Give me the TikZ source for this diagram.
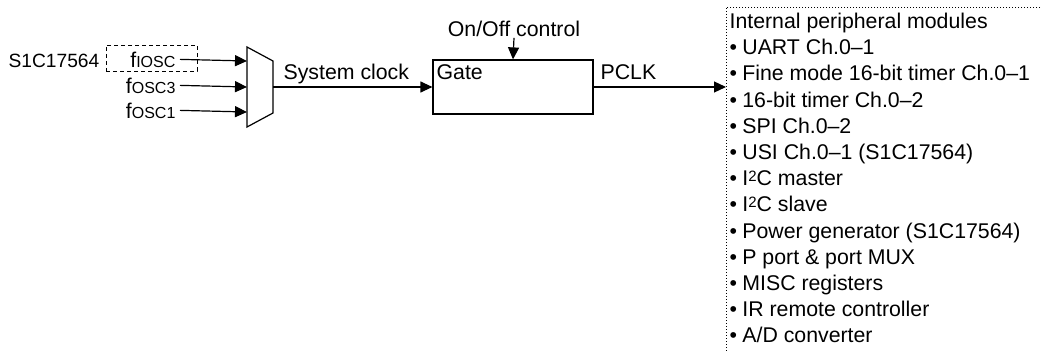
\documentclass[tikz,border=0pt]{standalone}
\usepackage{fontspec}
\setmainfont{Liberation Sans}
\usetikzlibrary{arrows.meta}
\begin{document}
\begin{tikzpicture}[x=1pt,y=-1pt, line width=1.2pt,
  txt/.style={font=\fontsize{21.3}{24}\selectfont, inner sep=0pt},
  arr/.style={-{Triangle[length=12pt,width=11pt]}},
  dotbox/.style={line width=0.9pt, dash pattern=on 1.2pt off 1.8pt},
  dashbox/.style={draw, line width=0.9pt, dash pattern=on 4pt off 3pt, inner sep=0pt}]
\useasboundingbox (0,0) rectangle (1042,353);
\newcommand{\sm}[1]{{\fontsize{16}{16}\selectfont #1}}
\newcommand{\sq}{\raisebox{4.5pt}{\fontsize{15}{15}\selectfont 2}}
% multiplexer
\draw (247,47) -- (273,61) -- (273,113) -- (247,127) -- cycle;
\coordinate (in1) at (247,61);
\coordinate (in2) at (247,87);
\coordinate (in3) at (247,112);
\coordinate (muxout) at (273,87);
% inputs
\node[dashbox, minimum width=91pt, minimum height=26pt] (oscbox) at (151.5,58) {};
\node[txt, anchor=base west, font=\fontsize{19.2}{22}\selectfont] (chip) at (8,67) {S1C17564};
\node[txt, anchor=base east] (fiosc) at (176,67) {f\sm{IOSC}};
\node[txt, anchor=base east] (fosc3) at (176,93) {f\sm{OSC3}};
\node[txt, anchor=base east] (fosc1) at (176,118) {f\sm{OSC1}};
\draw[arr] ([xshift=4pt]fiosc.east) -- (in1);
\draw[arr] ([xshift=4pt]fosc3.east) -- (in2);
\draw[arr] ([xshift=4pt]fosc1.east) -- (in3);
% gate
\node[draw, minimum width=160pt, minimum height=54pt, inner sep=0pt] (gate) at (513,87) {};
\node[txt, anchor=base west] (gatelbl) at (436,80) {Gate};
\node[txt, anchor=base west] (sysclk) at (283,80) {System clock};
\draw[arr] (muxout) -- (gate.west);
\node[txt, anchor=base] (onoff) at (514,37) {On/Off control};
\draw[arr] (onoff.south) -- (gate.north);
\node[txt, anchor=base west] (pclk) at (600,80) {PCLK};
% peripheral modules
\coordinate (tr) at (1040,7);
\coordinate (tl) at (726,7);
\coordinate (bl) at (726,353);
\draw[dotbox] (tr) -- (tl) -- (bl);
\coordinate (pin) at (726,87);
\draw[arr] (gate.east) -- (pin);
\node[txt, anchor=base west] (l0) at (729,28.5) {Internal peripheral modules};
\foreach \t [count=\i] in {UART Ch.0--1, Fine mode 16-bit timer Ch.0--1, 16-bit timer Ch.0--2, SPI Ch.0--2, USI Ch.0--1 (S1C17564), I\sq C master, I\sq C slave, Power generator (S1C17564), P port \& port MUX, MISC registers, IR remote controller, A/D converter}
  \node[txt, anchor=base west] (l\i) at (729,28.5+26.2*\i) {\textbullet\hspace{0.25em}\t};
\end{tikzpicture}
\end{document}
